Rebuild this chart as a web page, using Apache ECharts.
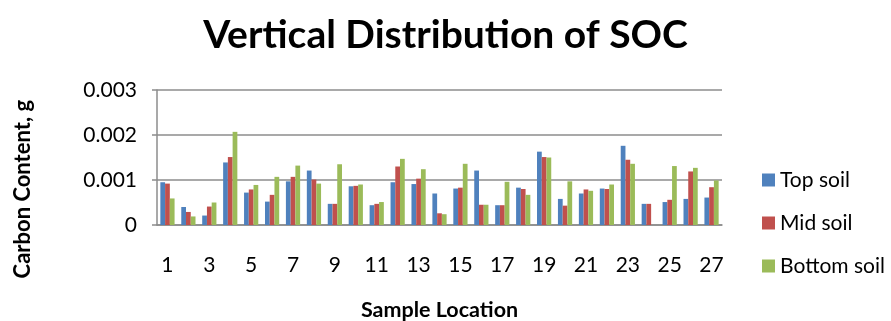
<!DOCTYPE html>
<html>
<head>
<meta charset="utf-8">
<script src="https://cdn.jsdelivr.net/npm/echarts@6/dist/echarts.min.js"></script>
<style>
  html, body { margin: 0; padding: 0; background: #fff; }
  #chart { width: 891px; height: 321px; }
</style>
</head>
<body>
<div id="chart"></div>
<script>
// Sample locations 1..27
const locations = ['1','2','3','4','5','6','7','8','9','10','11','12','13','14','15','16','17','18','19','20','21','22','23','24','25','26','27'];

// Soil organic carbon content (g) per layer
const topSoil = [0.00095, 0.00040, 0.00021, 0.00139, 0.00072, 0.00052, 0.00097, 0.00121, 0.00047,
                 0.00086, 0.00044, 0.00095, 0.00091, 0.00070, 0.00081, 0.00121, 0.00044, 0.00083,
                 0.00163, 0.00058, 0.00070, 0.00081, 0.00176, 0.00047, 0.00051, 0.00058, 0.00061];
const midSoil = [0.00092, 0.00029, 0.00041, 0.00151, 0.00079, 0.00067, 0.00107, 0.00101, 0.00047,
                 0.00087, 0.00047, 0.00130, 0.00103, 0.00026, 0.00083, 0.00045, 0.00044, 0.00080,
                 0.00151, 0.00043, 0.00079, 0.00080, 0.00145, 0.00047, 0.00056, 0.00119, 0.00084];
const bottomSoil = [0.00059, 0.00019, 0.00050, 0.00207, 0.00089, 0.00107, 0.00132, 0.00092, 0.00135,
                    0.00090, 0.00051, 0.00147, 0.00124, 0.00024, 0.00136, 0.00045, 0.00096, 0.00067,
                    0.00150, 0.00097, 0.00076, 0.00090, 0.00136, 0, 0.00131, 0.00127, 0.00099];

const yTicks = { min: 0, max: 0.003, interval: 0.001 };

const FONT = 'Lato, "Open Sans", sans-serif';
const chart = echarts.init(document.getElementById('chart'));

chart.setOption({
  animation: false,
  textStyle: { fontFamily: FONT },
  title: {
    text: 'Vertical Distribution of SOC',
    left: 'center',
    top: 11,
    textStyle: { fontFamily: FONT, fontSize: 39, fontWeight: 'bold', color: '#000' }
  },
  grid: { left: 157, right: 169, top: 90, bottom: 96, containLabel: false, outerBoundsMode: 'none' },
  legend: {
    orient: 'vertical',
    left: 757,
    top: 164,
    itemWidth: 13,
    itemHeight: 13,
    itemGap: 21,
    icon: 'rect',
    textStyle: { fontFamily: FONT, fontSize: 21, color: '#000', lineHeight: 22 },
    data: ['Top soil', 'Mid soil', 'Bottom soil']
  },
  xAxis: {
    type: 'category',
    data: locations,
    name: 'Sample Location',
    nameLocation: 'middle',
    nameGap: 74,
    nameTextStyle: { fontFamily: FONT, fontSize: 21.5, fontWeight: 'bold', color: '#000' },
    axisLine: { lineStyle: { color: '#8c8c8c', width: 1.5 } },
    axisTick: { show: false },
    axisLabel: { interval: 1, margin: 30, fontSize: 21, color: '#000', fontFamily: FONT }
  },
  yAxis: {
    type: 'value',
    min: yTicks.min,
    max: yTicks.max,
    interval: yTicks.interval,
    axisLine: { show: true, lineStyle: { color: '#8c8c8c', width: 1.5 } },
    axisTick: { show: true, length: 5, lineStyle: { color: '#8c8c8c', width: 1.5 } },
    splitLine: { lineStyle: { color: '#8c8c8c', width: 1.5 } },
    axisLabel: {
      margin: 20, fontSize: 21, color: '#000', fontFamily: FONT,
      formatter: v => v === 0 ? '0' : v.toFixed(3)
    }
  },
  graphic: [{
    type: 'text',
    left: 12,
    top: 100,
    rotation: Math.PI / 2,
    style: {
      text: 'Carbon Content, g',
      font: 'bold 22px ' + FONT,
      fill: '#000'
    }
  }],
  series: [
    { name: 'Top soil', type: 'bar', data: topSoil, itemStyle: { color: '#4f81bd' }, barGap: '0%', barCategoryGap: '32%' },
    { name: 'Mid soil', type: 'bar', data: midSoil, itemStyle: { color: '#c0504d' }, barGap: '0%', barCategoryGap: '32%' },
    { name: 'Bottom soil', type: 'bar', data: bottomSoil, itemStyle: { color: '#9bbb59' }, barGap: '0%', barCategoryGap: '32%' }
  ]
});
</script>
</body>
</html>
